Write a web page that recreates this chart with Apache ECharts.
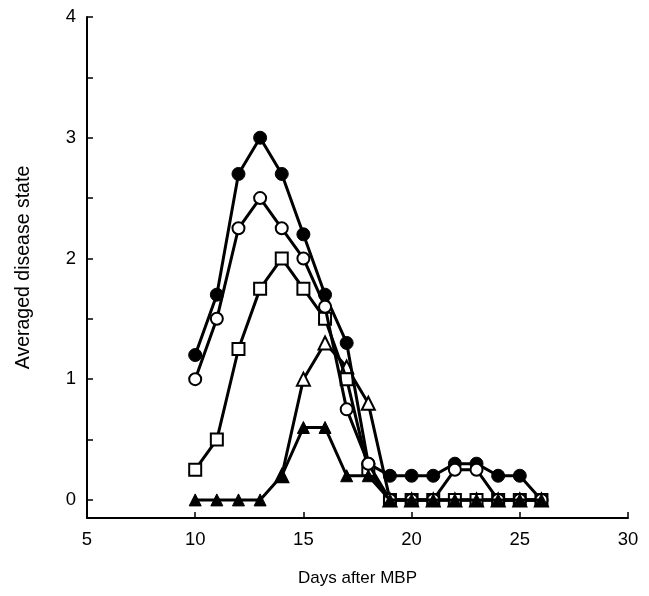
<!DOCTYPE html>
<html>
<head>
<meta charset="utf-8">
<script src="https://cdn.jsdelivr.net/npm/echarts@6/dist/echarts.min.js"></script>
<style>html,body{margin:0;padding:0;background:#fff}#c{width:649px;height:596px}</style>
</head>
<body>
<div id="c"></div>
<script>
const days = [10,11,12,13,14,15,16,17,18,19,20,21,22,23,24,25,26];
const filledCircle = [1.2,1.7,2.7,3.0,2.7,2.2,1.7,1.3,0.3,0.2,0.2,0.2,0.3,0.3,0.2,0.2,0];
const openCircle   = [1.0,1.5,2.25,2.5,2.25,2.0,1.6,0.75,0.3,0,0,0,0.25,0.25,0,0,0];
const openSquare   = [0.25,0.5,1.25,1.75,2.0,1.75,1.5,1.0,0.25,0,0,0,0,0,0,0,0];
const filledTri    = [0,0,0,0,0.2,0.6,0.6,0.2,0.2,0,0,0,0,0,0,0,0];
const openTri      = [null,null,null,null,0.2,1.0,1.3,1.1,0.8,0,0,0,0,0,0,0,0];
const xTicks = [5,10,15,20,25,30];
const yLabels = [0,1,2,3,4];
const yTicks = [0,0.5,1,1.5,2,2.5,3,3.5,4];

function pairs(v){ return days.map((d,i)=>[d,v[i]]); }
function ser(name, data, symbol, filled, size, z){
  return {
    name, type:'line', data: pairs(data), symbol, symbolSize: size,
    showAllSymbol:true, connectNulls:false,
    lineStyle:{color:'#000', width:3},
    itemStyle:{color: filled ? '#000' : '#fff', borderColor:'#000', borderWidth: filled?1:2},
    emphasis:{disabled:true}, z: z
  };
}
const font = 'Liberation Sans, Arial, Helvetica, sans-serif';
const chart = echarts.init(document.getElementById('c'), null, {renderer:'canvas'});
chart.setOption({
  animation:false,
  backgroundColor:'#fff',
  grid:{left:87, right:21, top:17, bottom:78},
  xAxis:{
    type:'value', min:5, max:30, interval:5,
    name:'Days after MBP', nameLocation:'middle', nameGap:52,
    nameTextStyle:{fontFamily:font, fontSize:17, color:'#000'},
    axisLine:{onZero:false, lineStyle:{color:'#000', width:2}},
    axisTick:{inside:true, length:6, lineStyle:{color:'#000', width:1.5}, customValues: xTicks},
    axisLabel:{fontFamily:font, fontSize:18.5, color:'#000', margin:12, customValues: xTicks},
    splitLine:{show:false}
  },
  yAxis:{
    type:'value', min:-0.15, max:4,
    name:'Averaged disease state', nameLocation:'middle', nameGap:53, nameRotate:90,
    nameTextStyle:{fontFamily:font, fontSize:19.5, color:'#000'},
    axisLine:{onZero:false, lineStyle:{color:'#000', width:2}},
    axisTick:{inside:true, length:6, lineStyle:{color:'#000', width:1.5}, customValues: yTicks},
    axisLabel:{fontFamily:font, fontSize:18.5, color:'#000', margin:11, customValues: yLabels},
    splitLine:{show:false}
  },
  series:[
    ser('openTri', openTri, 'triangle', false, 13, 2),
    ser('openSquare', openSquare, 'rect', false, 12, 3),
    ser('filledCircle', filledCircle, 'circle', true, 13, 4),
    ser('openCircle', openCircle, 'circle', false, 12, 5),
    ser('filledTri', filledTri, 'triangle', true, 12, 6)
  ]
});
</script>
</body>
</html>
